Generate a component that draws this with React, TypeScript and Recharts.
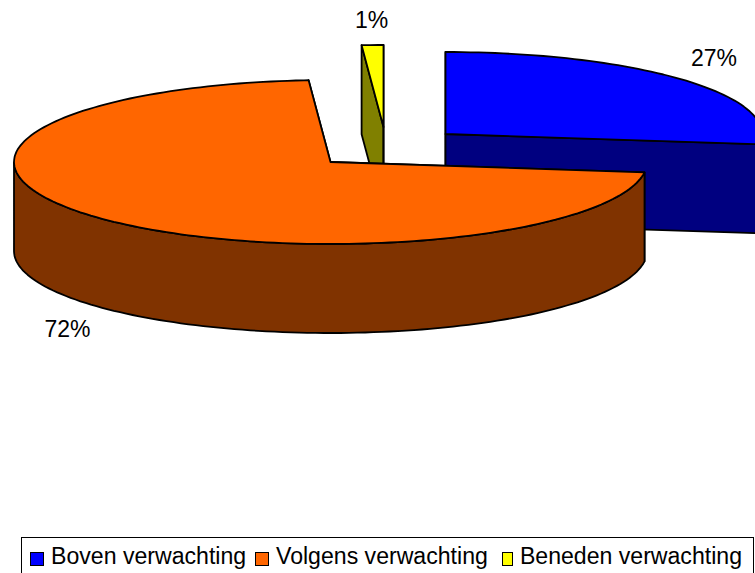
import { Legend, Pie, PieChart } from 'recharts';

const categories = ['Boven verwachting', 'Volgens verwachting', 'Beneden verwachting'];
const shares = [27, 71.9, 1.1];
const topColors = ['#0000ff', '#ff6600', '#ffff00'];
const sideColors = ['#000080', '#803300', '#808000'];

// drawn small slice first so the big orange one sits on top of it
const drawOrder = [2, 0, 1];
const tableData = drawOrder.map(i => ({
  name: categories[i],
  value: shares[i],
  fill: topColors[i],
  side: sideColors[i],
}));

const CX = 330.5;
const CY = 162;
const RX = 316.5;
const RY = 82;
const DEPTH = 89;
const FONT = '"Liberation Sans", Arial, sans-serif';
const legendItemWidths = [225, 247, 240];

const explode: Record<string, [number, number]> = {
  'Boven verwachting': [115, -28],
  'Volgens verwachting': [0, 0],
  'Beneden verwachting': [53, -35],
};

const labelShift: Record<string, [number, number]> = {
  'Boven verwachting': [31, -22],
  'Volgens verwachting': [-33, 22],
  'Beneden verwachting': [-1, -25],
};

const RAD = Math.PI / 180;

function rimPoint(ox: number, oy: number, angle: number, drop = 0): [number, number] {
  return [ox + RX * Math.cos(angle * RAD), oy - RY * Math.sin(angle * RAD) + drop];
}

function toPath(points: [number, number][], close = true) {
  return points.map((p, i) => `${i ? 'L' : 'M'}${p[0].toFixed(1)} ${p[1].toFixed(1)}`).join(' ') + (close ? ' Z' : '');
}

function Slice3D(props: any) {
  const { cx, cy, startAngle, endAngle, fill } = props;
  const name = props.name ?? props.payload?.name;
  const side = props.side ?? props.payload?.side;
  const [dx, dy] = explode[name];
  const ox = cx + dx;
  const oy = cy + dy;

  const angles: number[] = [];
  for (let a = startAngle; a > endAngle; a -= 1.5) angles.push(a);
  angles.push(endAngle);

  const apex: [number, number] = [ox, oy];
  const apexLow: [number, number] = [ox, oy + DEPTH];
  const top = toPath([apex, ...angles.map(a => rimPoint(ox, oy, a))]);
  const face = (a: number) => toPath([apex, rimPoint(ox, oy, a), rimPoint(ox, oy, a, DEPTH), apexLow]);

  // only the front half of the rim shows its wall
  const front = angles.filter(a => Math.sin(a * RAD) < 0);
  const wall = front.length > 1
    ? toPath([
        ...front.map(a => rimPoint(ox, oy, a)),
        ...[...front].reverse().map(a => rimPoint(ox, oy, a, DEPTH)),
      ])
    : '';

  return (
    <g stroke="#000" strokeWidth={1.8} strokeLinejoin="round">
      <path d={face(startAngle)} fill={side} />
      <path d={face(endAngle)} fill={side} />
      {wall && <path d={wall} fill={side} />}
      <path d={top} fill={fill} />
    </g>
  );
}

function renderLabel(props: any) {
  const { cx, cy, midAngle, percent, name } = props;
  const [dx, dy] = explode[name];
  const [sx, sy] = labelShift[name];
  const onFront = Math.sin(midAngle * RAD) < 0;
  const [x, y] = rimPoint(cx + dx, cy + dy, midAngle, onFront ? DEPTH : 0);
  return (
    <text x={x + sx} y={y + sy} textAnchor="middle" dominantBaseline="central" fontFamily={FONT} fontSize={23} fill="#000">
      {`${Math.round(percent * 100)}%`}
    </text>
  );
}

function LegendBox() {
  return (
    <div
      style={{
        boxSizing: 'border-box',
        width: 733,
        height: 50,
        border: '1px solid #000',
        display: 'flex',
        alignItems: 'flex-start',
        paddingTop: 6,
        paddingLeft: 8,
        fontFamily: FONT,
        fontSize: 23.1,
        lineHeight: '24px',
        color: '#000',
        whiteSpace: 'nowrap',
      }}
    >
      {categories.map((label, i) => (
        <div key={label} style={{ display: 'flex', alignItems: 'flex-start', width: legendItemWidths[i], flex: 'none' }}>
          <span
            style={{
              display: 'block',
              boxSizing: 'border-box',
              width: 14,
              height: 14,
              marginTop: 8,
              marginRight: 7,
              border: '1.5px solid #000',
              background: topColors[i],
            }}
          />
          <span>{label}</span>
        </div>
      ))}
    </div>
  );
}

export default function App() {
  return (
    <div style={{ position: 'absolute', left: 0, top: 0, width: 755, height: 573, overflow: 'hidden', background: '#fff' }}>
      <PieChart width={755} height={573} margin={{ top: 0, right: 0, bottom: 0, left: 0 }}>
        <Pie
          data={tableData}
          dataKey="value"
          nameKey="name"
          cx={CX}
          cy={CY}
          innerRadius={0}
          outerRadius={RX}
          startAngle={90 + (shares[2] / 100) * 360}
          endAngle={90 + (shares[2] / 100) * 360 - 360}
          paddingAngle={0}
          shape={Slice3D}
          label={renderLabel}
          labelLine={false}
          isAnimationActive={false}
        />
        <Legend content={<LegendBox />} wrapperStyle={{ left: 21, top: 537, width: 733, bottom: 'auto' }} />
      </PieChart>
    </div>
  );
}
